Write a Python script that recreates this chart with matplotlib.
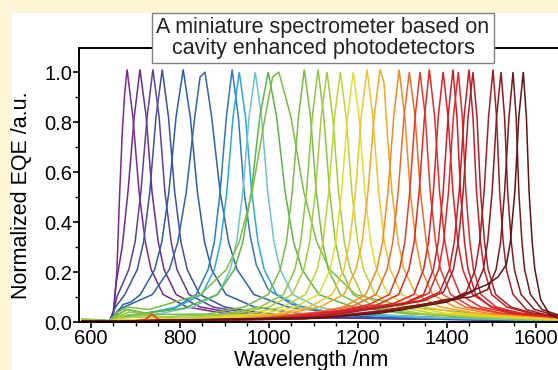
import matplotlib
matplotlib.use("Agg")
import matplotlib.pyplot as plt
from matplotlib.patches import Rectangle
from matplotlib.ticker import MultipleLocator

plt.rcParams["font.family"] = ["Liberation Sans", "DejaVu Sans"]

# one entry per photodetector: wavelengths (nm) and normalized EQE
curve_wl = [
    [580, 642, 650, 658, 664, 670, 675, 681, 694, 708, 722, 735, 762, 816, 897, 1059, 1650],
    [580, 642, 650, 656, 670, 683, 697, 710, 724, 737, 751, 764, 791, 845, 926, 1088, 1650],
    [580, 642, 652, 658, 685, 699, 712, 726, 739, 753, 766, 780, 793, 820, 874, 955, 1117, 1650],
    [580, 642, 655, 676, 704, 718, 732, 746, 760, 774, 788, 802, 816, 844, 900, 984, 1152, 1650],
    [580, 642, 656, 672, 690, 711, 743, 759, 775, 791, 807, 823, 839, 855, 871, 903, 967, 1063, 1255, 1650],
    [580, 642, 662, 738, 776, 795, 814, 833, 845, 856, 871, 890, 909, 928, 966, 1042, 1156, 1384, 1650],
    [580, 642, 660, 701, 782, 836, 863, 877, 890, 904, 917, 931, 944, 958, 971, 998, 1052, 1133, 1295, 1650],
    [580, 642, 660, 709, 793, 849, 877, 891, 905, 919, 933, 947, 961, 975, 989, 1017, 1073, 1157, 1325, 1650],
    [580, 642, 660, 745, 829, 885, 913, 927, 941, 955, 969, 983, 997, 1011, 1025, 1053, 1109, 1193, 1361, 1650],
    [580, 642, 660, 680, 720, 808, 884, 922, 941, 960, 979, 998, 1017, 1036, 1055, 1074, 1112, 1188, 1302, 1530, 1650],
    [580, 642, 660, 682, 730, 846, 904, 933, 962, 991, 1008, 1022, 1049, 1078, 1107, 1136, 1194, 1310, 1484, 1650],
    [580, 642, 662, 682, 740, 863, 944, 998, 1025, 1039, 1052, 1066, 1079, 1093, 1106, 1120, 1133, 1160, 1214, 1295, 1457, 1650],
    [580, 642, 665, 685, 760, 902, 980, 1032, 1058, 1071, 1084, 1097, 1110, 1123, 1136, 1149, 1162, 1188, 1240, 1318, 1474, 1650],
    [580, 642, 665, 685, 800, 922, 1000, 1052, 1078, 1091, 1104, 1117, 1130, 1143, 1156, 1169, 1182, 1208, 1260, 1338, 1494, 1650],
    [580, 642, 665, 700, 820, 952, 1030, 1082, 1108, 1121, 1134, 1147, 1160, 1173, 1186, 1199, 1212, 1238, 1290, 1368, 1524, 1650],
    [580, 642, 670, 850, 981, 1059, 1111, 1137, 1150, 1163, 1176, 1189, 1202, 1215, 1228, 1241, 1267, 1319, 1397, 1553, 1650],
    [580, 642, 670, 880, 1012, 1090, 1142, 1168, 1181, 1194, 1207, 1220, 1233, 1246, 1259, 1272, 1298, 1350, 1428, 1584, 1650],
    [580, 642, 900, 1033, 1114, 1168, 1195, 1209, 1222, 1236, 1249, 1258, 1267, 1276, 1290, 1303, 1330, 1384, 1465, 1627, 1650],
    [580, 642, 940, 1092, 1167, 1217, 1242, 1255, 1267, 1280, 1292, 1305, 1317, 1330, 1342, 1367, 1417, 1492, 1650],
    [580, 642, 960, 1115, 1190, 1240, 1265, 1278, 1290, 1303, 1315, 1328, 1340, 1353, 1365, 1390, 1440, 1515, 1650],
    [580, 700, 722, 737, 752, 775, 980, 1155, 1224, 1270, 1293, 1305, 1316, 1328, 1339, 1351, 1362, 1374, 1385, 1408, 1454, 1523, 1650],
    [580, 642, 1000, 1176, 1245, 1291, 1314, 1326, 1337, 1349, 1360, 1372, 1383, 1395, 1406, 1429, 1475, 1544, 1650],
    [580, 642, 1020, 1215, 1281, 1325, 1347, 1358, 1369, 1380, 1391, 1402, 1413, 1424, 1435, 1457, 1501, 1567, 1650],
    [580, 642, 1040, 1237, 1303, 1347, 1369, 1380, 1391, 1402, 1413, 1422, 1430, 1439, 1447, 1464, 1498, 1549, 1650],
    [580, 642, 1050, 1249, 1315, 1359, 1381, 1392, 1403, 1414, 1425, 1434, 1442, 1451, 1459, 1476, 1510, 1561, 1650],
    [580, 642, 1060, 1273, 1339, 1383, 1405, 1416, 1427, 1438, 1449, 1458, 1466, 1475, 1483, 1500, 1534, 1585, 1650],
    [580, 642, 1080, 1282, 1348, 1392, 1414, 1425, 1436, 1447, 1458, 1467, 1475, 1484, 1492, 1509, 1543, 1594, 1650],
    [580, 642, 1100, 1250, 1343, 1403, 1443, 1463, 1473, 1483, 1493, 1503, 1511, 1518, 1526, 1533, 1548, 1578, 1623, 1650],
    [580, 642, 1120, 1260, 1361, 1421, 1461, 1481, 1491, 1501, 1511, 1521, 1529, 1536, 1544, 1551, 1566, 1596, 1641, 1650],
    [580, 642, 1150, 1300, 1396, 1453, 1491, 1510, 1520, 1529, 1539, 1548, 1555, 1561, 1568, 1574, 1587, 1613, 1650],
    [580, 642, 1100, 1250, 1400, 1450, 1490, 1514, 1533, 1542, 1552, 1561, 1571, 1578, 1584, 1591, 1597, 1610, 1630, 1650],
]

curve_eqe = [
    [0.006, 0.004, 0.02, 0.2, 0.5, 0.75, 0.9, 1.01, 0.82, 0.52, 0.32, 0.21, 0.11, 0.06, 0.035, 0.018, 0.005],
    [0.006, 0.004, 0.04, 0.15, 0.3, 0.52, 0.82, 1.01, 0.82, 0.52, 0.32, 0.21, 0.11, 0.06, 0.035, 0.018, 0.005],
    [0.006, 0.004, 0.05, 0.1, 0.21, 0.32, 0.52, 0.82, 1.01, 0.82, 0.52, 0.32, 0.21, 0.11, 0.06, 0.035, 0.018, 0.005],
    [0.006, 0.004, 0.06, 0.11, 0.21, 0.32, 0.52, 0.82, 1.01, 0.82, 0.52, 0.32, 0.21, 0.11, 0.06, 0.035, 0.018, 0.005],
    [0.006, 0.004, 0.03, 0.07, 0.08, 0.11, 0.21, 0.32, 0.52, 0.82, 1.01, 0.82, 0.52, 0.32, 0.21, 0.11, 0.06, 0.035, 0.018, 0.005],
    [0.006, 0.004, 0.05, 0.11, 0.21, 0.32, 0.52, 0.82, 0.98, 1.0, 0.82, 0.52, 0.32, 0.21, 0.11, 0.06, 0.035, 0.018, 0.005],
    [0.006, 0.004, 0.02, 0.03, 0.05, 0.11, 0.21, 0.32, 0.52, 0.82, 1.01, 0.82, 0.52, 0.34, 0.23, 0.13, 0.07, 0.04, 0.02, 0.006],
    [0.006, 0.004, 0.015, 0.03, 0.06, 0.11, 0.21, 0.32, 0.52, 0.82, 1.0, 0.82, 0.52, 0.32, 0.21, 0.11, 0.06, 0.035, 0.018, 0.005],
    [0.006, 0.004, 0.015, 0.03, 0.06, 0.11, 0.21, 0.32, 0.52, 0.82, 1.0, 0.82, 0.52, 0.32, 0.21, 0.11, 0.06, 0.035, 0.018, 0.005],
    [0.01, 0.005, 0.03, 0.05, 0.035, 0.055, 0.11, 0.21, 0.32, 0.52, 0.82, 1.0, 0.82, 0.52, 0.32, 0.21, 0.11, 0.06, 0.035, 0.018, 0.01],
    [0.012, 0.006, 0.04, 0.06, 0.05, 0.11, 0.21, 0.32, 0.52, 0.82, 0.98, 1.0, 0.82, 0.52, 0.32, 0.21, 0.11, 0.06, 0.032, 0.018],
    [0.01, 0.005, 0.03, 0.05, 0.03, 0.032, 0.06, 0.11, 0.21, 0.32, 0.52, 0.82, 1.01, 0.82, 0.52, 0.32, 0.21, 0.11, 0.06, 0.035, 0.018, 0.008],
    [0.008, 0.004, 0.025, 0.04, 0.02, 0.032, 0.06, 0.11, 0.21, 0.32, 0.52, 0.82, 1.01, 0.82, 0.52, 0.32, 0.21, 0.11, 0.06, 0.035, 0.018, 0.008],
    [0.008, 0.004, 0.02, 0.03, 0.015, 0.032, 0.06, 0.11, 0.21, 0.32, 0.52, 0.82, 1.0, 0.82, 0.52, 0.32, 0.21, 0.11, 0.06, 0.035, 0.018, 0.008],
    [0.006, 0.004, 0.015, 0.02, 0.012, 0.032, 0.06, 0.11, 0.21, 0.32, 0.52, 0.82, 1.0, 0.82, 0.52, 0.32, 0.21, 0.11, 0.06, 0.035, 0.018, 0.008],
    [0.005, 0.003, 0.01, 0.012, 0.032, 0.06, 0.11, 0.21, 0.32, 0.52, 0.82, 1.0, 0.82, 0.52, 0.32, 0.21, 0.11, 0.06, 0.035, 0.018, 0.01],
    [0.005, 0.003, 0.008, 0.012, 0.032, 0.06, 0.11, 0.21, 0.32, 0.52, 0.82, 1.01, 0.82, 0.52, 0.32, 0.21, 0.11, 0.06, 0.035, 0.018, 0.012],
    [0.005, 0.003, 0.01, 0.032, 0.06, 0.11, 0.21, 0.32, 0.52, 0.82, 1.01, 0.96, 0.72, 0.52, 0.32, 0.21, 0.11, 0.06, 0.035, 0.018, 0.014],
    [0.004, 0.003, 0.012, 0.035, 0.06, 0.11, 0.21, 0.32, 0.52, 0.82, 1.01, 0.82, 0.52, 0.32, 0.21, 0.11, 0.06, 0.035, 0.018],
    [0.004, 0.003, 0.012, 0.04, 0.065, 0.11, 0.21, 0.32, 0.52, 0.82, 1.0, 0.82, 0.52, 0.32, 0.21, 0.11, 0.06, 0.035, 0.02],
    [0.004, 0.005, 0.01, 0.032, 0.01, 0.005, 0.012, 0.045, 0.07, 0.11, 0.21, 0.32, 0.52, 0.82, 1.0, 0.82, 0.52, 0.32, 0.21, 0.11, 0.06, 0.035, 0.018],
    [0.004, 0.003, 0.012, 0.05, 0.07, 0.11, 0.21, 0.32, 0.52, 0.82, 1.01, 0.82, 0.52, 0.32, 0.21, 0.11, 0.06, 0.035, 0.02],
    [0.004, 0.003, 0.012, 0.055, 0.075, 0.11, 0.21, 0.32, 0.52, 0.82, 1.0, 0.82, 0.52, 0.32, 0.21, 0.11, 0.06, 0.035, 0.022],
    [0.004, 0.003, 0.012, 0.055, 0.075, 0.11, 0.21, 0.32, 0.52, 0.82, 1.01, 0.82, 0.52, 0.32, 0.21, 0.11, 0.06, 0.035, 0.018],
    [0.004, 0.003, 0.012, 0.06, 0.08, 0.115, 0.21, 0.32, 0.52, 0.82, 1.0, 0.82, 0.52, 0.32, 0.21, 0.11, 0.06, 0.035, 0.02],
    [0.004, 0.003, 0.012, 0.065, 0.085, 0.12, 0.21, 0.32, 0.52, 0.82, 1.01, 0.82, 0.52, 0.32, 0.21, 0.11, 0.06, 0.035, 0.022],
    [0.004, 0.003, 0.012, 0.065, 0.085, 0.12, 0.21, 0.32, 0.52, 0.82, 1.0, 0.82, 0.52, 0.32, 0.21, 0.11, 0.06, 0.035, 0.024],
    [0.004, 0.003, 0.015, 0.045, 0.07, 0.085, 0.12, 0.21, 0.32, 0.52, 0.82, 1.01, 0.82, 0.52, 0.32, 0.21, 0.11, 0.05, 0.028, 0.022],
    [0.004, 0.003, 0.015, 0.045, 0.075, 0.09, 0.125, 0.21, 0.32, 0.52, 0.82, 1.0, 0.82, 0.52, 0.32, 0.21, 0.11, 0.05, 0.028, 0.026],
    [0.004, 0.003, 0.02, 0.05, 0.09, 0.1, 0.13, 0.21, 0.32, 0.52, 0.82, 1.0, 0.82, 0.52, 0.32, 0.21, 0.11, 0.05, 0.028],
    [0.004, 0.003, 0.015, 0.035, 0.08, 0.12, 0.15, 0.18, 0.23, 0.32, 0.52, 0.82, 1.0, 0.82, 0.52, 0.32, 0.21, 0.09, 0.03, 0.015],
]

curve_colors = [
    "#7e2a8b", "#6c2c8e", "#5c3e98", "#3f4fa0", "#2b5ca9", "#2f62ad",
    "#2d7abf", "#29a8e0", "#6dc4c6", "#5bb548", "#7dbe42", "#78bc44",
    "#8cc63f", "#a5cd39", "#bdd532", "#e5dd2b", "#f3c22c", "#f7a823",
    "#f68b1f", "#ea6a2a", "#e83a2c", "#e22a27", "#dd1f26", "#cc1e26",
    "#e2262b", "#c81e25", "#a8222a", "#a11f24", "#8c1b20", "#771a1c",
    "#5e1315",
]

x_ticks = [600, 800, 1000, 1200, 1400, 1600]
y_ticks = [0.0, 0.2, 0.4, 0.6, 0.8, 1.0]
title_text = "A miniature spectrometer based on\ncavity enhanced photodetectors"

fs_axis = 14.5
fs_label = 15.5

fig = plt.figure(figsize=(5.58, 3.70), dpi=100)
fig.patch.set_facecolor("#fcf5d8")
fig.patches.append(Rectangle((12 / 558, 0), 1, 1 - 13 / 370, transform=fig.transFigure,
                             facecolor="white", edgecolor="none", zorder=-5))

ax = fig.add_axes([79 / 558, 48 / 370, 1 - 79 / 558, 274 / 370])
ax.set_facecolor("none")
ax.set_zorder(2)

for wl, eqe, c in zip(curve_wl, curve_eqe, curve_colors):
    ax.plot(wl, eqe, color=c, lw=1.1, solid_joinstyle="miter")

ax.set_xlim(573, 1649)
ax.set_ylim(0, 1.096)
ax.set_xticks(x_ticks)
ax.set_yticks(y_ticks)
ax.set_yticklabels(["%.1f" % v for v in y_ticks])
ax.xaxis.set_minor_locator(MultipleLocator(50))
ax.yaxis.set_minor_locator(MultipleLocator(0.1))

ax.spines["right"].set_visible(False)
for s in ("left", "bottom", "top"):
    ax.spines[s].set_linewidth(1.4)
ax.tick_params(which="major", direction="out", length=4, width=1.2, labelsize=fs_axis,
               top=False, right=False, pad=1)
ax.tick_params(which="minor", direction="out", length=3, width=1.0, top=False, right=False)

ax.set_xlabel("Wavelength /nm", fontsize=fs_label)
ax.set_ylabel("Normalized EQE /a.u.", fontsize=fs_label)
ax.xaxis.set_label_coords(0.485, -0.102)
ax.yaxis.set_label_coords(-0.119, 0.463)
ax.yaxis.label.set_va("center")

fig.text(323 / 558, 1 - 38 / 370, title_text, ha="center", va="center", fontsize=15.5,
         linespacing=1.0, color="#222222", zorder=10,
         bbox=dict(boxstyle="square,pad=0.2", facecolor="white", edgecolor="#808080", lw=1.0))

fig.savefig("out.png", dpi=100, facecolor=fig.get_facecolor())
